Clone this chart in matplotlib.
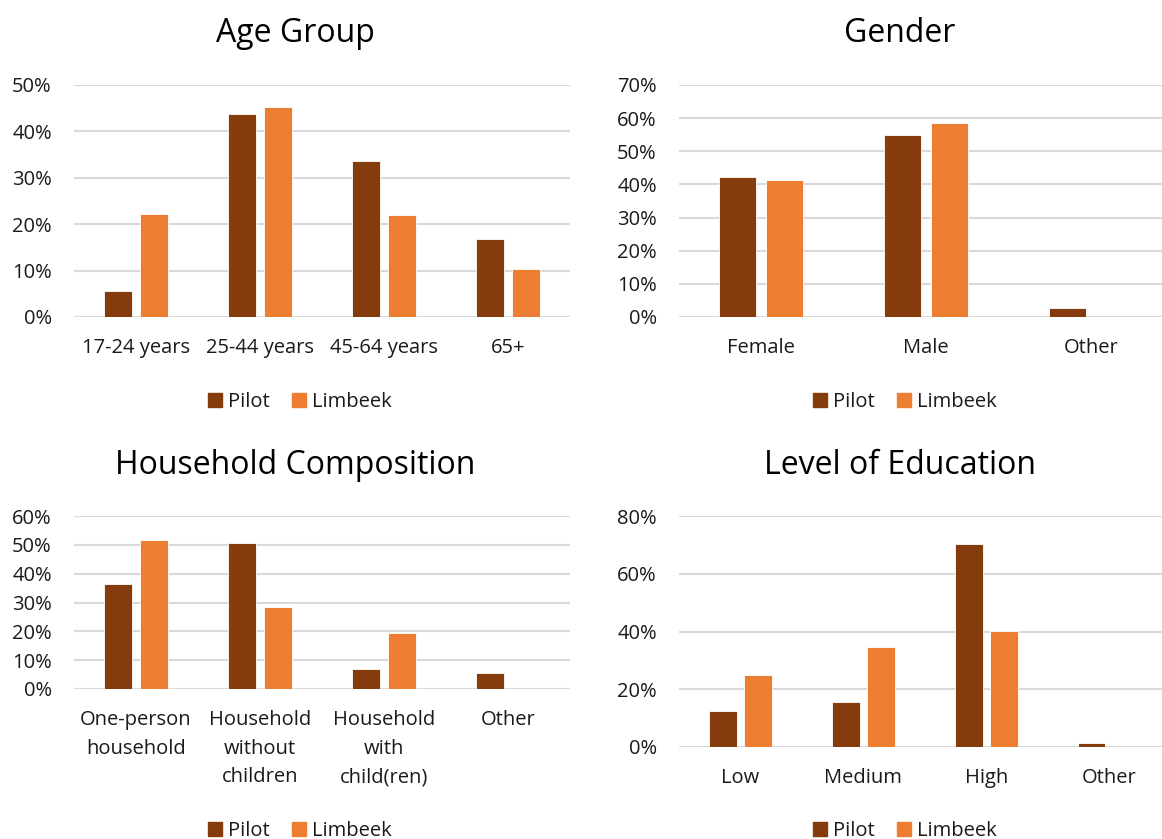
import matplotlib
matplotlib.use("Agg")
import matplotlib.pyplot as plt
import numpy as np
from matplotlib.patches import Patch

plt.rcParams["font.family"] = ["Open Sans", "DejaVu Sans"]

PILOT_COLOR = "#843C0C"
LIMBEEK_COLOR = "#ED7D31"
GRID_COLOR = "#D9D9D9"
TEXT_COLOR = "#1A1A1A"

# shares in percent
age_labels = ["17-24 years", "25-44 years", "45-64 years", "65+"]
age_pilot = [5.5, 43.7, 33.7, 16.8]
age_limbeek = [22.3, 45.3, 21.9, 10.3]

gender_labels = ["Female", "Male", "Other"]
gender_pilot = [42.1, 54.8, 2.7]
gender_limbeek = [41.3, 58.4, 0.0]

household_labels = ["One-person\nhousehold", "Household\nwithout\nchildren",
                    "Household\nwith\nchild(ren)", "Other"]
household_pilot = [36.5, 50.6, 6.8, 5.4]
household_limbeek = [51.8, 28.6, 19.5, 0.0]

education_labels = ["Low", "Medium", "High", "Other"]
education_pilot = [12.5, 15.5, 70.4, 1.3]
education_limbeek = [25.1, 34.6, 40.2, 0.0]

W, H = 1162, 839
fig = plt.figure(figsize=(W / 100, H / 100), dpi=100)


def px_axes(x0, y0, x1, y1):
    # pixel box (top-left origin) -> figure axes
    return fig.add_axes([x0 / W, (H - y1) / H, (x1 - x0) / W, (y1 - y0) / H])


def bar_panel(ax, labels, pilot, limbeek, ymax, ystep, xright=None):
    x = np.arange(len(labels))
    bw, gap = 0.225, 0.06
    off = (bw + gap) / 2
    ax.bar(x - off, pilot, bw, color=PILOT_COLOR, edgecolor="white", linewidth=0.6, zorder=3)
    ax.bar(x + off, limbeek, bw, color=LIMBEEK_COLOR, edgecolor="white", linewidth=0.6, zorder=3)
    ticks = np.arange(0, ymax + 0.1, ystep)
    for t in ticks:
        ax.axhline(t, color=GRID_COLOR, lw=1.5, zorder=1)
    ax.set_ylim(0, ymax)
    ax.set_yticks(ticks)
    ax.set_yticklabels([f"{int(t)}%" for t in ticks])
    ax.set_xticks(x)
    ax.set_xticklabels(labels, linespacing=1.58, va="top")
    ax.set_xlim(-0.5, len(labels) - 0.5 if xright is None else xright)
    for s in ax.spines.values():
        s.set_visible(False)
    ax.tick_params(length=0, labelsize=14.5, colors=TEXT_COLOR)
    ax.tick_params(axis="y", pad=16)
    ax.tick_params(axis="x", pad=15)
    ax.set_facecolor("none")


ax1 = px_axes(74, 85, 570, 317)
bar_panel(ax1, age_labels, age_pilot, age_limbeek, 50, 10)
ax2 = px_axes(679, 85, 1162, 317)
bar_panel(ax2, gender_labels, gender_pilot, gender_limbeek, 70, 10, xright=2.43)
ax3 = px_axes(74, 516, 570, 689)
bar_panel(ax3, household_labels, household_pilot, household_limbeek, 60, 10)
ax4 = px_axes(679, 516, 1162, 747)
bar_panel(ax4, education_labels, education_pilot, education_limbeek, 80, 20, xright=3.43)

titles = [("Age Group", 295, 33), ("Gender", 900, 33),
          ("Household Composition", 295, 465), ("Level of Education", 900, 465)]
for txt, tx, ty in titles:
    fig.text(tx / W, (H - ty) / H, txt, ha="center", va="center", fontsize=23, color="#000000")

handles = [Patch(color=PILOT_COLOR, label="Pilot"), Patch(color=LIMBEEK_COLOR, label="Limbeek")]
for lx, ly in [(300, 402), (905, 402), (300, 831), (905, 831)]:
    fig.legend(handles=handles, loc="center", bbox_to_anchor=(lx / W, (H - ly) / H),
               ncol=2, frameon=False, fontsize=14.5, handlelength=0.7, handleheight=0.7,
               handletextpad=0.3, columnspacing=1.1, labelcolor=TEXT_COLOR,
               borderpad=0.2)

fig.savefig("out.png", dpi=100)
